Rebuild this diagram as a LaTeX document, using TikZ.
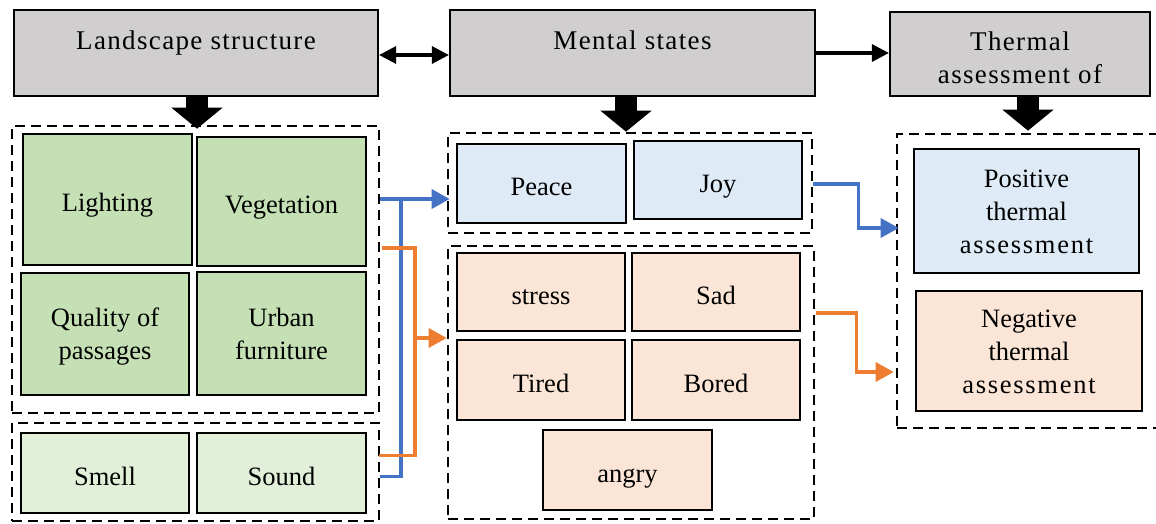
\documentclass[tikz,border=0pt]{standalone}
\usepackage{fontspec}
\setmainfont{Liberation Serif}
\newfontfamily\wide[LetterSpace=5]{Liberation Serif}
\newfontfamily\wider[LetterSpace=6.5]{Liberation Serif}
\usetikzlibrary{arrows.meta,calc}
\definecolor{cgray}{HTML}{D0CECE}
\definecolor{cgreen}{HTML}{C5E0B4}
\definecolor{clgreen}{HTML}{E2F0D9}
\definecolor{cblue}{HTML}{DEEBF7}
\definecolor{cpeach}{HTML}{FBE5D6}
\definecolor{lblue}{HTML}{4472C4}
\definecolor{lorange}{HTML}{ED7D31}
\newcommand{\topl}{\rule{0pt}{25pt}}
\newcommand{\botl}{\rule[-7pt]{0pt}{7pt}}
\begin{document}
\begin{tikzpicture}[x=1pt,y=1pt,
  every node/.style={font=\fontsize{26.5}{33}\selectfont, align=center, inner sep=0pt},
  one/.style={text height=24pt, text depth=0pt},
  gbox/.style={draw, line width=2.2pt, fill=cgray},
  ibox/.style={draw, line width=2.6pt},
  grp/.style={draw, line width=2.6pt, dash pattern=on 10pt off 6pt},
  blk/.style={line width=22pt, -{Triangle[length=21pt,width=50pt]}},
  thin/.style={line width=3.2pt},
  tip/.style={-{Triangle[length=17pt,width=17pt]}},
  bl/.style={draw=lblue, line width=3.3pt},
  bla/.style={bl, -{Triangle[length=18pt,width=19pt]}},
  orl/.style={draw=lorange, line width=3.3pt},
  ora/.style={orl, -{Triangle[length=18pt,width=19pt]}}]
\useasboundingbox (0,0) rectangle (1156,-523);

% top boxes
\node[gbox, minimum width=364pt, minimum height=86pt] (LS) at (196,-53) {};
\node[one, font=\fontsize{27}{33}\wide] (LSt) at (196,-37) {Landscape structure};
\node[gbox, minimum width=365pt, minimum height=86pt] (MS) at (632.5,-53) {};
\node[one, font=\fontsize{27}{33}\wide] (MSt) at (632.5,-37) {Mental states};
\node[gbox, minimum width=260pt, minimum height=84pt] (TH) at (1020,-54) {};
\node[font=\fontsize{27}{33}\wide] (THt) at (1020,-58) {Thermal\\assessment of};

% groups
\node[grp, minimum width=367pt, minimum height=287pt] (G1) at (195.5,-269.5) {};
\node[grp, minimum width=367pt, minimum height=98pt] (G2) at (195.5,-472) {};
\node[grp, minimum width=364pt, minimum height=100pt] (G3) at (630,-183) {};
\node[grp, minimum width=366pt, minimum height=273pt] (G4) at (631,-382.5) {};
\node[grp, minimum width=272pt, minimum height=294pt] (G5) at (1033,-281) {};

% left boxes
\node[ibox, one, fill=cgreen, minimum width=169pt, minimum height=131pt] (light) at (107.5,-199.5) {Lighting};
\node[ibox, one, fill=cgreen, minimum width=169pt, minimum height=129pt] (veg) at (281.5,-201.5) {Vegetation};
\node[ibox, fill=cgreen, minimum width=168pt, minimum height=122pt] (qual) at (105,-334) {\topl Quality of\\passages\botl};
\node[ibox, fill=cgreen, minimum width=169pt, minimum height=123pt] (urb) at (281.5,-333.5) {\topl Urban\\furniture\botl};
\node[ibox, one, fill=clgreen, minimum width=168pt, minimum height=80pt] (smell) at (105,-473) {Smell};
\node[ibox, one, fill=clgreen, minimum width=169pt, minimum height=80pt] (sound) at (281.5,-473) {Sound};

% middle boxes
\node[ibox, one, fill=cblue, minimum width=169pt, minimum height=79pt] (peace) at (541.5,-183.5) {Peace};
\node[ibox, one, fill=cblue, minimum width=168pt, minimum height=78pt] (joy) at (718,-180) {Joy};
\node[ibox, one, fill=cpeach, minimum width=168pt, minimum height=78pt] (stress) at (541,-292) {stress};
\node[ibox, one, fill=cpeach, minimum width=168pt, minimum height=78pt] (sad) at (716,-292) {Sad};
\node[ibox, one, fill=cpeach, minimum width=168pt, minimum height=80pt] (tired) at (541,-380) {Tired};
\node[ibox, one, fill=cpeach, minimum width=168pt, minimum height=80pt] (bored) at (716,-380) {Bored};
\node[ibox, one, fill=cpeach, minimum width=169pt, minimum height=80pt] (angry) at (627.5,-470) {angry};

% right boxes
\node[ibox, fill=cblue, minimum width=225pt, minimum height=124pt] (pos) at (1026.5,-211) {\topl Positive\\thermal\\{\wider assessment}\botl};
\node[ibox, fill=cpeach, minimum width=226pt, minimum height=120pt] (neg) at (1029,-351) {\topl Negative\\thermal\\{\wider assessment}\botl};

% block arrows
\draw[blk] ($(LS.south)+(1,0)$) -- ($(G1.north)+(1.5,-4)$);
\draw[blk] ($(MS.south)+(-6.5,0)$) -- ($(G3.north)+(-4,0)$);
\draw[blk] ($(TH.south)+(8,0)$) -- ($(G5.north)+(-5,2)$);

% thin arrows between headers
\draw[thin, {Triangle[length=17pt,width=17pt]}-{Triangle[length=17pt,width=17pt]}] ($(LS.east)+(0,-2)$) -- ($(MS.west)+(0,-2)$);
\draw[thin, tip] (MS.east) -- (MS.east -| TH.west);

% left coloured connectors
\coordinate (bj) at (401,-199);
\draw[bl] ($(G1.east)+(0,70.5)$) -- (bj);
\draw[bla] (bj) -- ($(G3.west)+(3,-16)$);
\draw[bl] (bj) |- ($(G2.east)+(0,-4.5)$);
\coordinate (oj) at (415,-248);
\coordinate (oa) at (415,-338);
\draw[orl] ($(G1.east)+(2,21.5)$) -- (oj) |- ($(G2.east)+(-1,16.5)$);
\draw[ora] (oa) -- ($(G4.west)+(0,44.5)$);

% right coloured connectors
\draw[bla] ($(G3.east)+(0,-1)$) -- ++(45,0) |- ($(G5.west)+(3,53)$);
\draw[ora] ($(G4.east)+(1,69.5)$) -- ++(40,0) |- ($(G5.west)+(-2,-91)$);
\end{tikzpicture}
\end{document}
